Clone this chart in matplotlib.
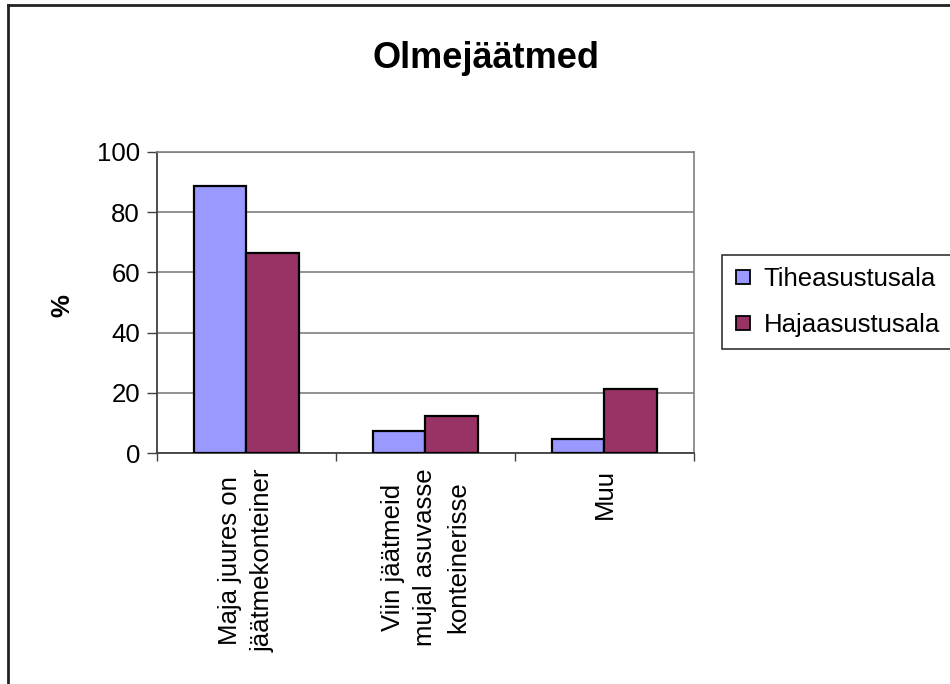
import matplotlib
matplotlib.use("Agg")
import matplotlib.pyplot as plt
from matplotlib.lines import Line2D
import numpy as np

plt.rcParams['font.family'] = ['Liberation Sans', 'DejaVu Sans']

title = "Olmejäätmed"
categories = ["Maja juures on\njäätmekonteiner",
              "Viin jäätmeid\nmujal asuvasse\nkonteinerisse",
              "Muu"]
series_names = ["Tiheasustusala", "Hajaasustusala"]
tihe = [88.6, 7.5, 4.8]
haja = [66.5, 12.3, 21.2]
colors = ["#9999FF", "#993366"]
yticks = [0, 20, 40, 60, 80, 100]

W, H = 950, 684
FS = 18.5
fig = plt.figure(figsize=(W / 100, H / 100), dpi=100)

# outer frame lines (left and top visible)
fig.add_artist(Line2D([8 / W, 8 / W], [0, 1 - 5 / H], transform=fig.transFigure,
                      color="#222222", lw=2))
fig.add_artist(Line2D([8 / W, 1], [1 - 5 / H, 1 - 5 / H], transform=fig.transFigure,
                      color="#222222", lw=2))

ax = fig.add_axes([156.7 / W, 1 - 453.3 / H, 537.3 / W, 301.6 / H])
x = np.arange(len(categories))
bw = 0.293
ax.bar(x - bw / 2, tihe, bw, color=colors[0], edgecolor="black", lw=1.6,
       label=series_names[0], zorder=3)
ax.bar(x + bw / 2, haja, bw, color=colors[1], edgecolor="black", lw=1.6,
       label=series_names[1], zorder=3)

ax.set_xlim(-0.5, 2.5)
ax.set_ylim(0, 100)
ax.set_yticks(yticks)
ax.yaxis.grid(True, color="#808080", lw=1.2, zorder=0)
ax.set_axisbelow(True)
ax.tick_params(axis="y", direction="out", length=7, width=1, colors="#404040",
               labelcolor="black", labelsize=FS, pad=5)

ax.set_xticks(x)
ax.set_xticklabels(categories, rotation=90, fontsize=FS, va="top", ha="center",
                   multialignment="center", linespacing=1.45)
ax.tick_params(axis="x", which="major", length=0, pad=11)
ax.set_xticks([-0.5, 0.5, 1.5, 2.5], minor=True)
ax.tick_params(axis="x", which="minor", direction="out", length=6, width=1,
               colors="#404040")

for s in ["left", "bottom"]:
    ax.spines[s].set_color("#404040")
    ax.spines[s].set_linewidth(1.3)
for s in ["top", "right"]:
    ax.spines[s].set_color("#808080")
    ax.spines[s].set_linewidth(1.2)

ax.set_ylabel("%", fontsize=FS, fontweight="bold")
ax.yaxis.set_label_coords((74 - 156.7) / 537.3, 0.49)

fig.text(486.5 / W, 1 - 68.3 / H, title, ha="center", va="baseline",
         fontsize=26, fontweight="bold")

handles = [Line2D([], [], marker="s", ls="none", markersize=10,
                  markerfacecolor=c, markeredgecolor="black", markeredgewidth=1.3)
           for c in colors]
leg = fig.legend(handles, series_names, loc="upper left",
                 bbox_to_anchor=(722 / W, 1 - 255 / H), fontsize=FS,
                 frameon=True, fancybox=False, edgecolor="black",
                 handlelength=0.7, handletextpad=0.45, borderpad=0.47,
                 labelspacing=0.85, borderaxespad=0)
leg.get_frame().set_linewidth(1.2)

fig.savefig("out.png", dpi=100, facecolor="white")
